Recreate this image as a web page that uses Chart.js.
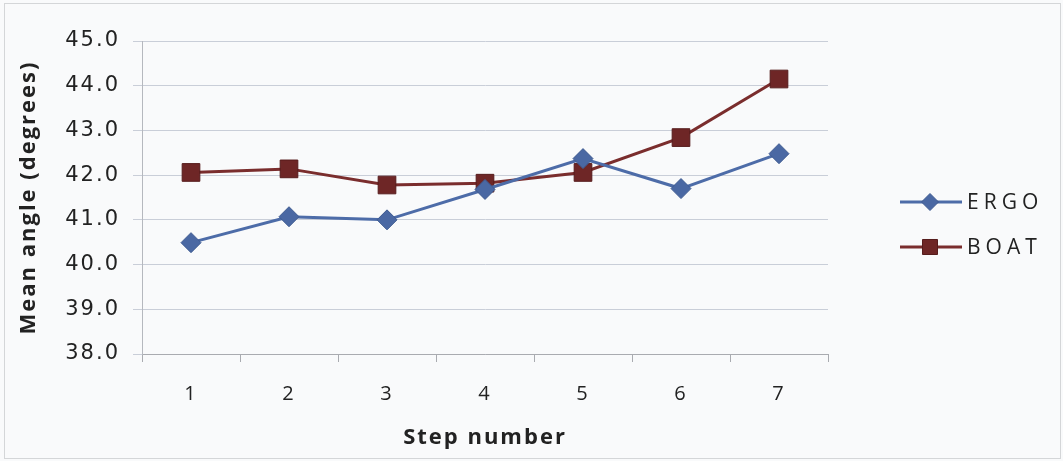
<!DOCTYPE html>
<html lang="en">
<head>
    <meta charset="UTF-8">
    <title>Mean angle by step</title>
    <script src="https://cdn.jsdelivr.net/npm/chart.js"></script>
    <style>
        body { margin: 0; background: #ffffff; }
        .chart-container { width: 1063px; height: 461px; }
    </style>
</head>
<body>
    <div class="chart-container">
        <canvas id="angleChart"></canvas>
    </div>

    <script>
        // data
        const steps = ['1', '2', '3', '4', '5', '6', '7'];
        const ergo = [40.49, 41.07, 41.0, 41.68, 42.37, 41.7, 42.48];
        const boat = [42.06, 42.14, 41.78, 41.82, 42.06, 42.84, 44.15];

        const ergoColor = '#4d6ca8';
        const boatColor = '#7a2d2d';

        // background, frame and an Excel-style legend (line with marker in the middle)
        const frame = {
            id: 'frame',
            beforeDraw(chart) {
                let c = chart.ctx;
                c.save();
                c.fillStyle = '#f9fafb';
                c.fillRect(0, 0, chart.width, chart.height);
                c.strokeStyle = '#d4d6d8';
                c.lineWidth = 1;
                c.strokeRect(4.5, 3.5, chart.width - 7, chart.height - 6);
                c.restore();
                c.letterSpacing = '2px'; // the scanned chart has loosely spaced text
            },
            afterDraw(chart) {
                let c = chart.ctx;
                let rows = [202, 247];
                c.save();
                chart.data.datasets.forEach((ds, i) => {
                    let y = rows[i];
                    c.strokeStyle = ds.borderColor;
                    c.lineWidth = 3;
                    c.beginPath();
                    c.moveTo(900, y);
                    c.lineTo(962, y);
                    c.stroke();
                    c.fillStyle = ds.pointBackgroundColor;
                    c.strokeStyle = ds.pointBorderColor;
                    c.lineWidth = 1;
                    Chart.helpers.drawPoint(c, {
                        pointStyle: ds.pointStyle,
                        radius: ds.pointRadius * 0.85,
                        borderWidth: 1
                    }, 930, y);
                    c.fillStyle = '#222';
                    c.font = '21px "Open Sans"';
                    c.letterSpacing = '5px';
                    c.textBaseline = 'middle';
                    c.fillText(ds.label, 967, y + 1);
                });
                c.restore();
            }
        };

        let ctx = document.getElementById('angleChart').getContext('2d');

        let angleChart = new Chart(ctx, {
            type: 'line',
            data: {
                labels: steps,
                datasets: [{
                    label: 'ERGO',
                    data: ergo,
                    borderColor: ergoColor,
                    borderWidth: 3,
                    pointStyle: 'rectRot',
                    pointRadius: 10,
                    pointBackgroundColor: '#4a68a3',
                    pointBorderColor: '#3f5b91',
                    pointBorderWidth: 1
                }, {
                    label: 'BOAT',
                    data: boat,
                    borderColor: boatColor,
                    borderWidth: 3,
                    pointStyle: 'rect',
                    pointRadius: 12.5,
                    pointBackgroundColor: '#6e2626',
                    pointBorderColor: '#561c1c',
                    pointBorderWidth: 1
                }]
            },
            options: {
                responsive: true,
                maintainAspectRatio: false,
                animation: false,
                layout: { padding: { left: 0, right: 235, top: 41, bottom: 0 } },
                plugins: {
                    legend: { display: false },
                    tooltip: { enabled: false }
                },
                scales: {
                    x: {
                        offset: true,
                        grid: {
                            offset: true,
                            drawOnChartArea: false,
                            tickLength: 8,
                            color: '#a9abb0'
                        },
                        border: { color: '#a9abb0' },
                        ticks: {
                            padding: 20,
                            color: '#222',
                            font: { family: '"Open Sans"', size: 20 }
                        },
                        title: {
                            display: true,
                            text: 'Step number',
                            color: '#222',
                            font: { family: '"Open Sans"', size: 22, weight: 'bold' },
                            padding: { top: 0, bottom: 10 }
                        },
                        afterFit(scale) { scale.height = 107; }
                    },
                    y: {
                        min: 38,
                        max: 45,
                        ticks: {
                            stepSize: 1,
                            padding: 13,
                            color: '#222',
                            font: { family: '"DejaVu Sans"', size: 21 },
                            callback: v => v.toFixed(1)
                        },
                        grid: {
                            color: '#c9ced8',
                            tickLength: 9
                        },
                        border: { color: '#b5b8be' },
                        title: {
                            display: true,
                            text: 'Mean angle (degrees)',
                            color: '#222',
                            font: { family: '"Open Sans"', size: 22, weight: 'bold' },
                            padding: { top: 16, bottom: 0 }
                        },
                        afterFit(scale) { scale.width = 142; }
                    }
                }
            },
            plugins: [frame]
        });
    </script>
</body>
</html>
